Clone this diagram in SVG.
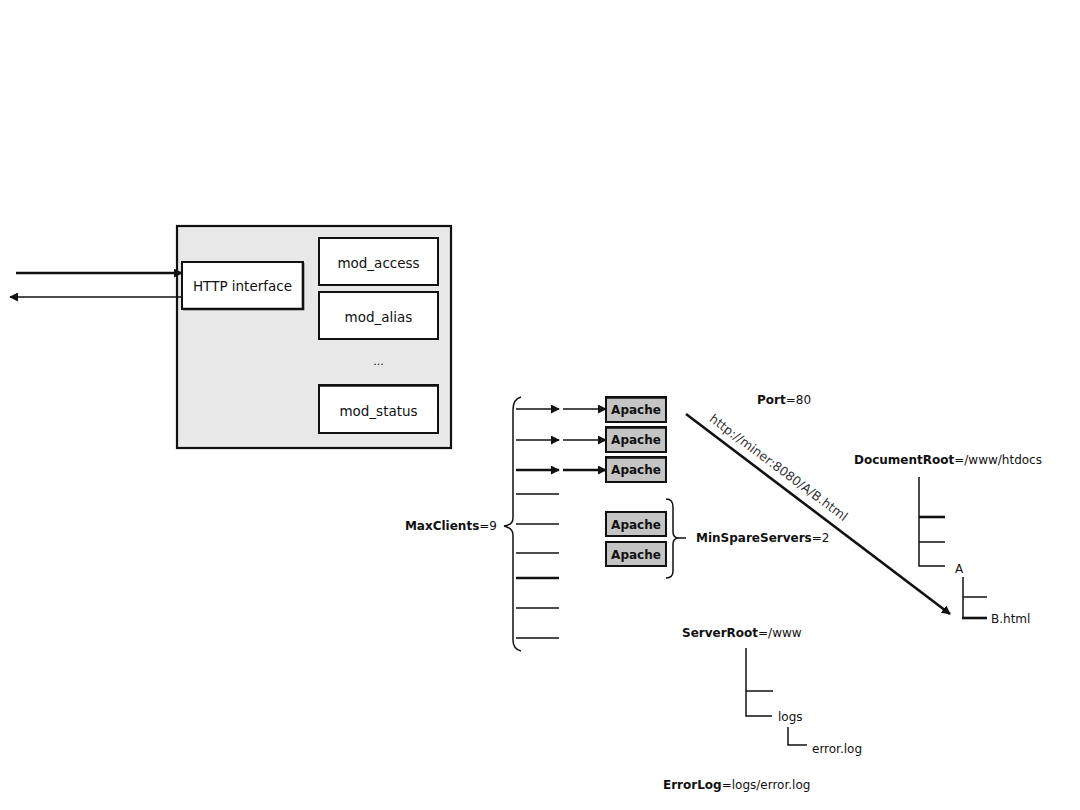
<svg xmlns="http://www.w3.org/2000/svg" width="1080" height="810" viewBox="0 0 1080 810">
<defs>
<style>
text{font-family:"DejaVu Sans","Verdana",sans-serif;fill:#111}
.box{fill:#fff;stroke:#111;stroke-width:2}
.lbl{font-size:13.5px;text-anchor:middle;dominant-baseline:central}
.ap{fill:#c4c4c4;stroke:#111;stroke-width:2}
.apt{font-size:12px;font-weight:bold;text-anchor:middle;dominant-baseline:central}
.t{font-size:12px;dominant-baseline:central}
.b{font-weight:bold}
.ln{stroke:#111;stroke-width:1.5;fill:none}
.thk{stroke:#111;stroke-width:2.6;fill:none}
</style>
<marker id="ah" viewBox="0 0 10 10" refX="9" refY="5" markerWidth="9" markerHeight="9" markerUnits="userSpaceOnUse" orient="auto"><path d="M0,0 L10,5 L0,10 z" fill="#111"/></marker>
<marker id="ahL" viewBox="0 0 10 10" refX="9" refY="5" markerWidth="9" markerHeight="9" markerUnits="userSpaceOnUse" orient="auto"><path d="M0,0 L10,5 L0,10 z" fill="#111"/></marker>
</defs>
<rect width="1080" height="810" fill="#fff"/>

<g id="server">
<rect x="177" y="226" width="274" height="222" fill="#e8e8e8" stroke="#111" stroke-width="2.2"/>
</g>
<g id="http-interface">
<rect class="box" x="182" y="262" width="121" height="47"/>
<path d="M303,263 V309 H183" class="thk"/>
<text class="lbl" x="242.5" y="285.5">HTTP interface</text>
</g>
<g id="mod-access">
<rect class="box" x="319" y="238" width="119" height="47"/>
<text class="lbl" x="378.5" y="263">mod_access</text>
</g>
<g id="mod-alias">
<rect class="box" x="319" y="292" width="119" height="47"/>
<text class="lbl" x="378.5" y="317">mod_alias</text>
</g>
<g id="ellipsis">
<text class="lbl" x="378.5" y="361" style="font-size:11px">...</text>
</g>
<g id="mod-status">
<rect class="box" x="319" y="385" width="119" height="48"/>
<path d="M319,385.5 H438" class="thk"/>
<text class="lbl" x="378.5" y="411">mod_status</text>
</g>

<g id="apache1"><rect class="ap" x="606" y="397" width="60" height="25"/><path d="M606,397.5 H666" class="thk"/><text class="apt" x="636" y="410">Apache</text></g>
<g id="apache2"><rect class="ap" x="606" y="427" width="60" height="25"/><path d="M606,427.5 H666" class="thk"/><text class="apt" x="636" y="440">Apache</text></g>
<g id="apache3"><rect class="ap" x="606" y="457" width="60" height="25"/><path d="M606,457.5 H666" class="thk"/><text class="apt" x="636" y="470">Apache</text></g>
<g id="apache4"><rect class="ap" x="606" y="512" width="60" height="24"/><text class="apt" x="636" y="524.5">Apache</text></g>
<g id="apache5"><rect class="ap" x="606" y="542" width="60" height="24"/><text class="apt" x="636" y="554.5">Apache</text></g>

<g id="labels">
<text class="t" x="497" y="526" text-anchor="end"><tspan class="b">MaxClients</tspan>=9</text>
<text class="t" x="696" y="538"><tspan class="b">MinSpareServers</tspan>=2</text>
<text class="t" x="757" y="400"><tspan class="b">Port</tspan>=80</text>
<text class="t" x="854" y="460"><tspan class="b">DocumentRoot</tspan>=/www/htdocs</text>
<text class="t" x="682" y="633"><tspan class="b">ServerRoot</tspan>=/www</text>
<text class="t" x="663" y="785"><tspan class="b">ErrorLog</tspan>=logs/error.log</text>
<text class="t" x="955" y="569">A</text>
<text class="t" x="991" y="619">B.html</text>
<text class="t" x="778" y="717">logs</text>
<text class="t" x="812" y="749">error.log</text>
<text x="0" y="0" transform="translate(776,471) rotate(36.8)" text-anchor="middle" style="font-size:12.5px;fill:#333">http://miner:8080/A/B.html</text>
</g>

<g id="connectors">
<line x1="16" y1="273" x2="182" y2="273" class="thk" marker-end="url(#ah)"/>
<line x1="182" y1="297" x2="10" y2="297" class="ln" marker-end="url(#ahL)"/>

<path d="M521,397 Q513,399 513,410 V518 Q513,525 504,526 Q513,528 513,535 V640 Q513,649 521,651" class="ln"/>
<line x1="516" y1="409" x2="559" y2="409" class="ln" marker-end="url(#ah)"/>
<line x1="563" y1="409" x2="606" y2="409" class="ln" marker-end="url(#ah)"/>
<line x1="516" y1="440" x2="559" y2="440" class="ln" marker-end="url(#ah)"/>
<line x1="563" y1="440" x2="606" y2="440" class="ln" marker-end="url(#ah)"/>
<line x1="516" y1="470" x2="559" y2="470" class="thk" marker-end="url(#ah)"/>
<line x1="563" y1="470" x2="606" y2="470" class="thk" marker-end="url(#ah)"/>
<line x1="516" y1="494" x2="559" y2="494" class="ln"/>
<line x1="516" y1="524" x2="559" y2="524" class="ln"/>
<line x1="516" y1="553" x2="559" y2="553" class="ln"/>
<line x1="516" y1="578" x2="559" y2="578" class="thk"/>
<line x1="516" y1="608" x2="559" y2="608" class="ln"/>
<line x1="516" y1="638" x2="559" y2="638" class="ln"/>

<path d="M666,499 Q673,499 673,507 V532 Q673,538 679,538 H686 M679,538 Q673,538 673,544 V571 Q673,578 666,578" class="ln"/>

<line x1="686" y1="414" x2="950" y2="614" class="thk" marker-end="url(#ah)"/>

<path d="M919,477 V566 H945 M919,542 H945" class="ln"/>
<path d="M919,517 H945" class="thk"/>
<path d="M963,577 V618 M963,597 H987" class="ln"/>
<path d="M962,618 H987" class="thk"/>

<path d="M746,648 V716 H772 M746,691 H773" class="ln"/>
<path d="M788,727 V745 H807" class="ln"/>
</g>
</svg>
